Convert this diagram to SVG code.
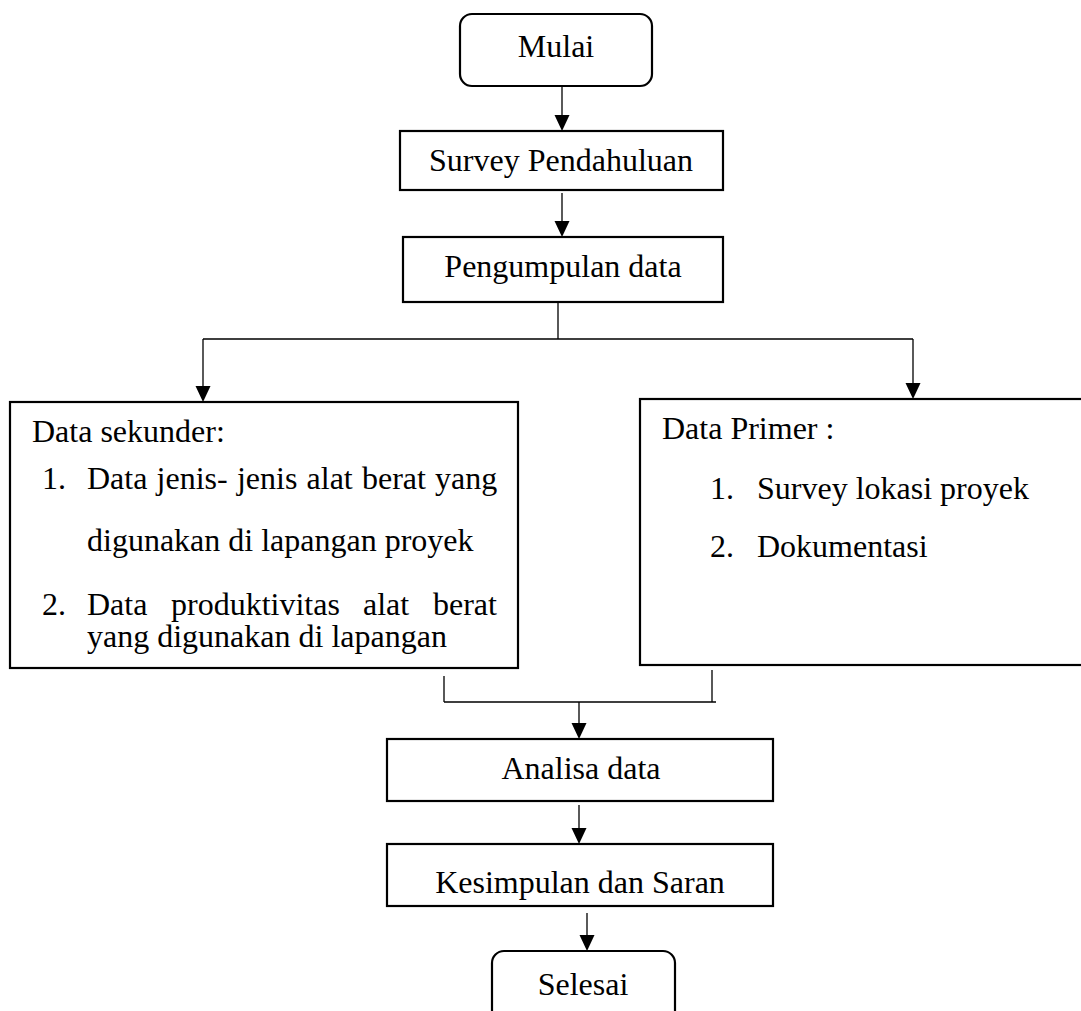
<svg xmlns="http://www.w3.org/2000/svg" width="1081" height="1011" viewBox="0 0 1081 1011">
<style>
.box{fill:#fff;stroke:#000;stroke-width:2.2}
.ln{fill:none;stroke:#000;stroke-width:1.3}
.ah{fill:#000}
text{font-family:"Liberation Serif","Times New Roman",serif;font-size:32px;fill:#000}
.c{text-anchor:middle}
</style>
<rect width="1081" height="1011" fill="#fff"/>
<g id="connectors">
<path class="ln" d="M562,86 V115"/><path class="ah" d="M554.5,115 h15 l-7.5,16 z"/>
<path class="ln" d="M562,193 V221"/><path class="ah" d="M554.5,221 h15 l-7.5,16 z"/>
<path class="ln" d="M558,302 V339 M203,339 H913"/>
<path class="ln" d="M203,339 V386"/><path class="ah" d="M195.5,386 h15 l-7.5,16 z"/>
<path class="ln" d="M913,339 V383"/><path class="ah" d="M905.5,383 h15 l-7.5,16 z"/>
<path class="ln" d="M444,676 V702 M712,670 V702 M444,702 H716"/>
<path class="ln" d="M579,702 V723"/><path class="ah" d="M571.5,723 h15 l-7.5,16 z"/>
<path class="ln" d="M579,805 V828"/><path class="ah" d="M571.5,828 h15 l-7.5,16 z"/>
<path class="ln" d="M587,913 V935"/><path class="ah" d="M579.5,935 h15 l-7.5,16 z"/>
</g>
<g id="mulai">
<rect class="box" x="460" y="14" width="192" height="72" rx="12"/>
<text class="c" x="556" y="57">Mulai</text>
</g>
<g id="survey">
<rect class="box" x="400" y="131" width="323" height="59"/>
<text class="c" x="561" y="171">Survey Pendahuluan</text>
</g>
<g id="pengumpulan">
<rect class="box" x="403" y="237" width="320" height="65"/>
<text class="c" x="563" y="277">Pengumpulan data</text>
</g>
<g id="sekunder">
<rect class="box" x="10" y="402" width="508" height="266"/>
<text x="32" y="442">Data sekunder:</text>
<text x="42" y="489">1.</text>
<text x="87" y="489" word-spacing="1.2">Data jenis- jenis alat berat yang</text>
<text x="87" y="551">digunakan di lapangan proyek</text>
<text x="42" y="615">2.</text>
<text y="615"><tspan x="87">Data</tspan><tspan x="171">produktivitas</tspan><tspan x="363">alat</tspan><tspan x="433">berat</tspan></text>
<text x="87" y="647">yang digunakan di lapangan</text>
</g>
<g id="primer">
<rect class="box" x="640" y="399" width="460" height="266"/>
<text x="662" y="439">Data Primer :</text>
<text x="710" y="499">1.</text>
<text x="757" y="499">Survey lokasi proyek</text>
<text x="710" y="557">2.</text>
<text x="757" y="557">Dokumentasi</text>
</g>
<g id="analisa">
<rect class="box" x="387" y="739" width="386" height="62"/>
<text class="c" x="581" y="779">Analisa data</text>
</g>
<g id="kesimpulan">
<rect class="box" x="387" y="844" width="386" height="62"/>
<text class="c" x="580" y="893">Kesimpulan dan Saran</text>
</g>
<g id="selesai">
<rect class="box" x="492" y="951" width="183" height="90" rx="12"/>
<text class="c" x="583" y="995">Selesai</text>
</g>
</svg>
